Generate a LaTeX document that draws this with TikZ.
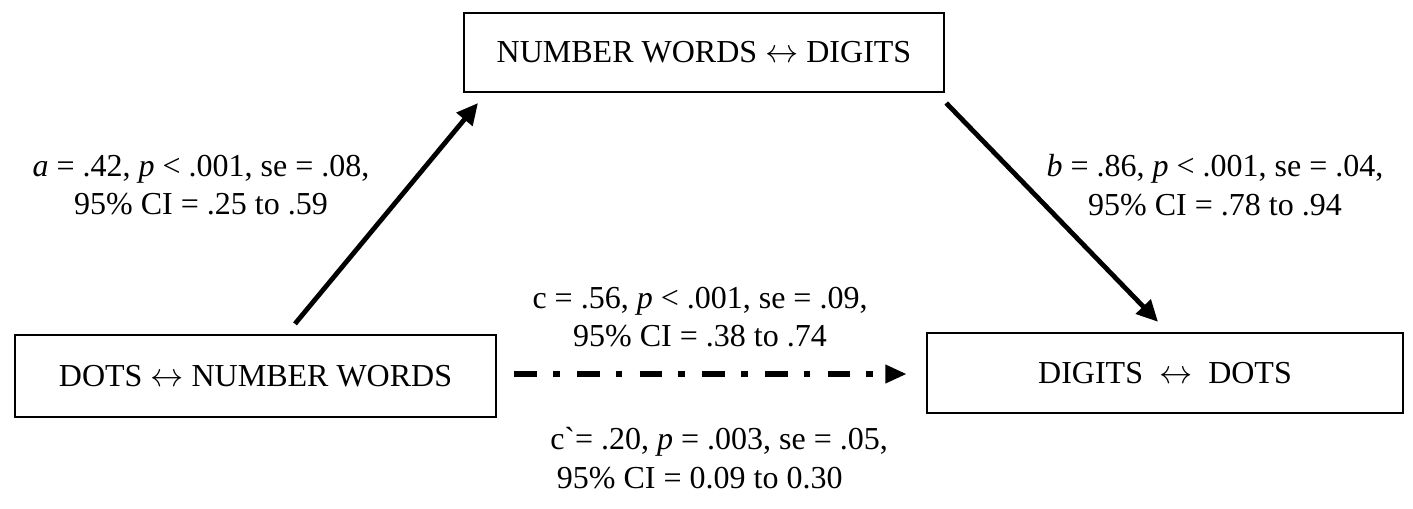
\documentclass[tikz,border=0pt]{standalone}
\usepackage{fontspec}
\setmainfont{Liberation Serif}[Ligatures=TeXOff]
\usetikzlibrary{arrows.meta,calc}
\tikzset{
  box/.style={draw=black,line width=1.8pt,inner sep=0pt,font=\fontsize{24}{29}\selectfont},
  lbl/.style={font=\fontsize{24}{29}\selectfont,inner sep=0pt},
  arr/.style={line width=3.6pt,-{Triangle[length=16pt,width=15pt]}},
  darr/.style={line width=4.5pt,dash pattern=on 17pt off 12pt on 5pt off 13pt,-{Triangle[length=16pt,width=13pt]}}
}
\newcommand{\lra}{$\leftrightarrow$}
\begin{document}
\begin{tikzpicture}[x=0.75pt,y=-0.75pt]
\useasboundingbox (0,0) rectangle (1413,508);
\node[box,minimum width=360pt,minimum height=59pt] (T) at (704,52.5) {NUMBER WORDS \lra{} DIGITS};
\node[box,minimum width=361pt,minimum height=61.5pt] (L) at (255.5,376) {DOTS \lra{} NUMBER WORDS};
\node[box,minimum width=357pt,minimum height=60pt] (R) at (1165,373) {DIGITS\ \ \lra\ \ DOTS};
\draw[arr] ([shift={(39.5,-10)}]L.north) -- ([shift={(-226,10)}]T.south);
\draw[arr] ([shift={(1,10)}]T.south east) -- ([shift={(-7,-10)}]R.north);
\draw[darr] ([shift={(17,-2)}]L.east) -- ([shift={(-19,1)}]R.west);
\node[lbl,align=center] (la) at (201,185) {\textit{a} = .42, \textit{p} < .001, se = .08,\\95\% CI = .25 to .59};
\node[lbl,align=center] (lb) at (1215,185) {\textit{b} = .86, \textit{p} < .001, se = .04,\\95\% CI = .78 to .94};
\node[lbl,align=center] (lc) at (700,317) {c = .56, \textit{p} < .001, se = .09,\\95\% CI = .38 to .74};
\node[lbl,align=left,anchor=west] (lcp) at (550,458) {c`= .20, \textit{p} = .003, se = .05,\\\hspace*{5pt}95\% CI = 0.09 to 0.30};
\end{tikzpicture}
\end{document}
